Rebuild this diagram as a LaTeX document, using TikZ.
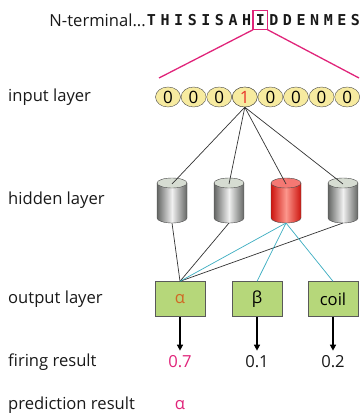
\documentclass[tikz,border=0pt]{standalone}
\usepackage{fontspec}
\setmainfont{Open Sans}
\newfontfamily\seqfont{DejaVu Sans Mono}
\usetikzlibrary{arrows.meta,shapes.geometric}
\definecolor{ink}{RGB}{25,25,25}
\definecolor{accentpink}{RGB}{224,36,122}
\definecolor{accentcyan}{RGB}{58,172,192}
\definecolor{inputfill}{RGB}{247,235,160}
\definecolor{outputfill}{RGB}{182,215,122}
\definecolor{alphaorange}{RGB}{208,104,36}
\definecolor{onered}{RGB}{232,52,42}
\definecolor{cyltop}{RGB}{214,220,210}
\definecolor{cyldark}{RGB}{100,102,100}
\definecolor{cyllight}{RGB}{240,240,240}
\definecolor{redtop}{RGB}{244,120,115}
\definecolor{reddark}{RGB}{205,22,16}
\definecolor{redlight}{RGB}{252,150,140}

\begin{document}
\begin{tikzpicture}[x=1pt,y=-1pt,
    layerlabel/.style={anchor=west,inner sep=0pt,text=ink,
      font=\fontsize{16.6}{19}\selectfont},
    seqletter/.style={inner sep=0pt,minimum width=14pt,minimum height=19pt,
      text=ink,font=\seqfont\bfseries\fontsize{15}{18}\selectfont},
    inbit/.style={ellipse,draw=black!70,fill=inputfill,inner sep=0pt,
      minimum width=25pt,minimum height=20pt,
      font=\fontsize{17}{19}\selectfont},
    outbox/.style={draw=black!65,fill=outputfill,minimum width=50pt,
      minimum height=35pt,inner sep=0pt,font=\fontsize{16.6}{19}\selectfont},
    firing/.style={inner sep=2pt,font=\fontsize{16.6}{19}\selectfont},
    wire/.style={draw=black!80,line width=0.7pt},
    cyanwire/.style={draw=accentcyan,line width=0.7pt}]
  \useasboundingbox (0,0) rectangle (360,414);

  % sequence on top
  \node[anchor=east,inner sep=0pt,text=ink,font=\fontsize{16.6}{19}\selectfont]
    (nterm) at (146,20) {N-terminal...};
  \foreach \l [count=\k] in {T,H,I,S,I,S,A,H,I,D,D,E,N,M,E,S}
    \node[seqletter] (s\k) at ({137.9+13.6*\k},20) {\l};
  \draw[accentpink,line width=1.3pt] (s9.south west) rectangle (s9.north east);
  \coordinate (fanL) at (159,78);
  \coordinate (fanR) at (359,78);
  \draw[accentpink,line width=1.3pt] (s9.south west) -- (fanL);
  \draw[accentpink,line width=1.3pt] (s9.south east) -- (fanR);

  % layer labels
  \node[layerlabel] (lin) at (8,97) {input layer};
  \node[layerlabel] (lhid) at (8,200) {hidden layer};
  \node[layerlabel] (lout) at (8,299) {output layer};
  \node[layerlabel] (lfire) at (8,362) {firing result};
  \node[layerlabel] (lpred) at (8,405) {prediction result};

  % input layer
  \foreach \b [count=\k] in {0,0,0,1,0,0,0,0}
    \node[inbit] (in\k) at ({142.4+25.6*\k},97) {\b};
  \node[inbit,text=onered] at (in4) {1};

  % hidden layer
  \foreach \x/\dk/\lg/\tp in {172/cyldark/cyllight/cyltop,
      229/cyldark/cyllight/cyltop,286/reddark/redlight/redtop,
      343/cyldark/cyllight/cyltop}{
    \shade[left color=\dk,right color=\dk,middle color=\lg]
      (\x-15,183) -- (\x-15,218)
      arc[start angle=180,end angle=360,x radius=15pt,y radius=5pt]
      -- (\x+15,183) -- cycle;
    \draw[black!70] (\x-15,183) -- (\x-15,218)
      arc[start angle=180,end angle=360,x radius=15pt,y radius=5pt]
      -- (\x+15,183);
    \draw[black!70,fill=\tp] (\x,183) ellipse (15 and 5);
  }
  \foreach \k/\x in {1/172,2/229,3/286,4/343}{
    \coordinate (hT\k) at (\x,184);
    \coordinate (hB\k) at (\x,223);
  }
  \foreach \k in {1,...,4}
    \draw[wire] (in4.south) -- (hT\k);

  % output layer
  \node[outbox,text=alphaorange] (oa) at (180,299) {α};
  \node[outbox] (ob) at (257,299) {β};
  \node[outbox] (oc) at (333,299) {coil};
  \foreach \k in {1,2,4}
    \draw[wire] (hB\k) -- (oa.north);
  \foreach \outn in {oa,ob,oc}
    \draw[cyanwire] (hB3) -- (\outn.north);

  % firing and prediction
  \node[firing,text=accentpink] (fa) at (180,362) {0.7};
  \node[firing,text=ink] (fb) at (257,362) {0.1};
  \node[firing,text=ink] (fc) at (333,362) {0.2};
  \foreach \outn/\fire in {oa/fa,ob/fb,oc/fc}
    \draw[line width=1.4pt,-{Triangle[length=6pt,width=6pt]},shorten >=3pt]
      (\outn.south) -- (\fire.north);
  \node[firing,text=accentpink] (pa) at (180,405) {α};
\end{tikzpicture}
\end{document}
